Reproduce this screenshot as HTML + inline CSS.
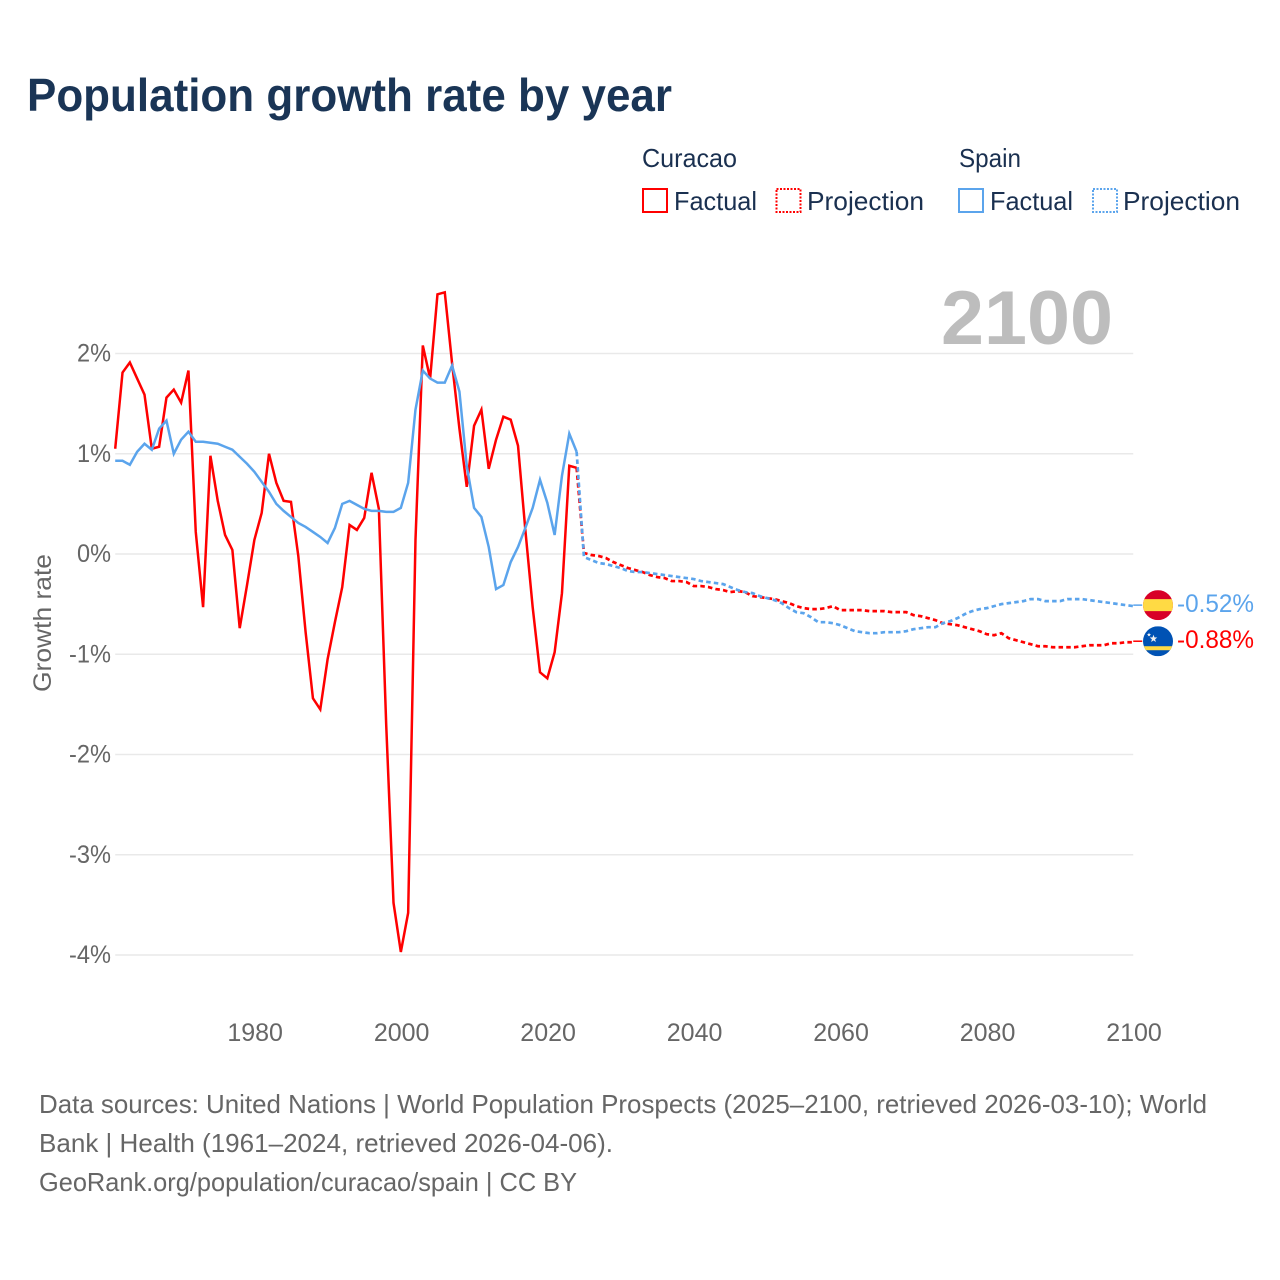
<!DOCTYPE html>
<html lang="en">
<head>
<meta charset="utf-8">
<title>Population growth rate by year</title>
<style>
html,body{margin:0;padding:0;background:#fff;}
svg{display:block;font-family:"Liberation Sans",sans-serif;}
</style>
</head>
<body>
<svg id="chart" xmlns="http://www.w3.org/2000/svg" width="1280" height="1280" viewBox="0 0 1280 1280">
  <rect x="0" y="0" width="1280" height="1280" fill="#fff"/>
  <text x="27" y="111" font-size="46" font-weight="700" fill="#1a3556" textLength="645" lengthAdjust="spacingAndGlyphs">Population growth rate by year</text>

  <g font-size="26" fill="#1a3050">
    <text x="642" y="167" textLength="95" lengthAdjust="spacingAndGlyphs">Curacao</text>
    <text x="959" y="167" textLength="62" lengthAdjust="spacingAndGlyphs">Spain</text>
    <rect x="643" y="189" width="24" height="23" fill="none" stroke="#ff0000" stroke-width="2"/>
    <text x="674" y="210" textLength="83" lengthAdjust="spacingAndGlyphs">Factual</text>
    <rect x="776.5" y="189" width="24" height="23" fill="none" stroke="#ff0000" stroke-width="2" stroke-dasharray="2 1.5"/>
    <text x="807" y="210" textLength="117" lengthAdjust="spacingAndGlyphs">Projection</text>
    <rect x="959" y="189" width="24" height="23" fill="none" stroke="#5ba4ec" stroke-width="2"/>
    <text x="990" y="210" textLength="83" lengthAdjust="spacingAndGlyphs">Factual</text>
    <rect x="1093" y="189" width="24" height="23" fill="none" stroke="#5ba4ec" stroke-width="2" stroke-dasharray="2 1.5"/>
    <text x="1123" y="210" textLength="117" lengthAdjust="spacingAndGlyphs">Projection</text>
  </g>

  <text x="941" y="344" font-size="76" font-weight="700" fill="#bdbdbd" textLength="172" lengthAdjust="spacingAndGlyphs">2100</text>
  <text transform="translate(51 623) rotate(-90)" text-anchor="middle" font-size="25" fill="#666" textLength="138" lengthAdjust="spacingAndGlyphs">Growth rate</text>

  <g id="grid"></g>
  <g id="ticks" font-size="25" fill="#666"></g>
  <g id="series"></g>
  <g id="ends"></g>

  <g font-size="26" fill="#666">
    <text x="39" y="1113" textLength="1168" lengthAdjust="spacingAndGlyphs">Data sources: United Nations | World Population Prospects (2025–2100, retrieved 2026-03-10); World</text>
    <text x="39" y="1152" textLength="574" lengthAdjust="spacingAndGlyphs">Bank | Health (1961–2024, retrieved 2026-04-06).</text>
    <a><text x="39" y="1191" textLength="538" lengthAdjust="spacingAndGlyphs">GeoRank.org/population/curacao/spain | CC BY</text></a>
  </g>
</svg>
<script>
const yTicks = [2, 1, 0, -1, -2, -3, -4];
const xTicks = [1980, 2000, 2020, 2040, 2060, 2080, 2100];
const factualStartYear = 1961;
const projectionStartYear = 2024;

const curacaoFactual = [1.05,1.81,1.91,1.75,1.59,1.05,1.07,1.56,1.64,1.51,1.83,0.22,-0.53,0.98,0.53,0.19,0.04,-0.74,-0.31,0.14,0.41,1.0,0.71,0.53,0.52,-0.02,-0.78,-1.44,-1.55,-1.05,-0.68,-0.33,0.29,0.24,0.36,0.81,0.45,-1.7,-3.48,-3.97,-3.58,0.14,2.08,1.75,2.59,2.61,1.9,1.25,0.67,1.28,1.44,0.85,1.14,1.37,1.34,1.08,0.24,-0.53,-1.18,-1.24,-0.98,-0.39,0.88,0.86];
const spainFactual = [0.93,0.93,0.89,1.02,1.10,1.04,1.25,1.33,1.0,1.14,1.22,1.12,1.12,1.11,1.10,1.07,1.04,0.97,0.90,0.82,0.72,0.62,0.50,0.43,0.37,0.31,0.27,0.22,0.17,0.11,0.26,0.50,0.53,0.49,0.45,0.43,0.43,0.42,0.42,0.46,0.71,1.44,1.83,1.75,1.71,1.71,1.88,1.62,0.88,0.46,0.37,0.07,-0.35,-0.31,-0.08,0.07,0.26,0.46,0.74,0.51,0.19,0.78,1.20,1.02];
const curacaoProjection = [0.86,0.01,-0.01,-0.02,-0.04,-0.08,-0.11,-0.14,-0.16,-0.18,-0.21,-0.23,-0.24,-0.27,-0.27,-0.28,-0.32,-0.32,-0.33,-0.35,-0.36,-0.38,-0.37,-0.38,-0.42,-0.43,-0.44,-0.45,-0.47,-0.49,-0.52,-0.54,-0.55,-0.55,-0.54,-0.52,-0.56,-0.56,-0.56,-0.56,-0.57,-0.57,-0.57,-0.58,-0.58,-0.58,-0.61,-0.62,-0.64,-0.66,-0.69,-0.70,-0.71,-0.73,-0.75,-0.77,-0.80,-0.81,-0.79,-0.84,-0.86,-0.88,-0.90,-0.92,-0.92,-0.93,-0.93,-0.93,-0.93,-0.92,-0.91,-0.91,-0.91,-0.89,-0.89,-0.88,-0.88];
const spainProjection = [1.02,-0.03,-0.06,-0.09,-0.10,-0.12,-0.14,-0.17,-0.18,-0.18,-0.19,-0.20,-0.21,-0.22,-0.23,-0.24,-0.25,-0.27,-0.28,-0.29,-0.30,-0.33,-0.36,-0.38,-0.39,-0.42,-0.44,-0.46,-0.49,-0.54,-0.58,-0.59,-0.63,-0.68,-0.68,-0.69,-0.71,-0.74,-0.77,-0.78,-0.79,-0.79,-0.78,-0.78,-0.78,-0.77,-0.75,-0.74,-0.73,-0.73,-0.69,-0.67,-0.64,-0.60,-0.57,-0.55,-0.54,-0.52,-0.50,-0.49,-0.48,-0.47,-0.45,-0.45,-0.47,-0.47,-0.47,-0.45,-0.45,-0.45,-0.46,-0.47,-0.48,-0.49,-0.50,-0.51,-0.52];

const NS = 'http://www.w3.org/2000/svg';
const RED = '#ff0000', BLUE = '#5ba4ec';
function xScale(year){ return 115.2 + (year - 1961) * 7.324; }
function yScale(v){ return 554 - v * 100.25; }
function mk(parent, tag, attrs){
  const el = document.createElementNS(NS, tag);
  for (const k in attrs) el.setAttribute(k, attrs[k]);
  parent.appendChild(el);
  return el;
}
function pathFrom(values, startYear){
  return values.map(function(v, i){
    return (i ? 'L' : 'M') + xScale(startYear + i).toFixed(2) + ' ' + yScale(v).toFixed(2);
  }).join(' ');
}

const grid = document.getElementById('grid');
const ticks = document.getElementById('ticks');
const seriesG = document.getElementById('series');
const ends = document.getElementById('ends');

yTicks.forEach(function(t){
  const line = mk(grid, 'line', {x1: xScale(1961), x2: xScale(2100), y1: yScale(t), y2: yScale(t), stroke: '#e9e9e9', 'stroke-width': 1.6});
  
  
  const label = mk(ticks, 'text', {x: 111, y: yScale(t) + 8, 'text-anchor': 'end', textLength: t < 0 ? 42 : 34, lengthAdjust: 'spacingAndGlyphs'});
  
  
  label.textContent = t + '%';
});
xTicks.forEach(function(t){
  const label = mk(ticks, 'text', {x: xScale(t) + 0.8, y: 1041, 'text-anchor': 'middle'});
  
  
  label.textContent = t;
});

const curacaoProj = mk(seriesG, 'path', {d: pathFrom(curacaoProjection, projectionStartYear), fill: 'none', stroke: RED, 'stroke-width': 2.7, 'stroke-dasharray': '4.5 3.2'});


const spainProj = mk(seriesG, 'path', {d: pathFrom(spainProjection, projectionStartYear), fill: 'none', stroke: BLUE, 'stroke-width': 2.7, 'stroke-dasharray': '4.5 3.2'});


const curacaoLine = mk(seriesG, 'path', {d: pathFrom(curacaoFactual, factualStartYear), fill: 'none', stroke: RED, 'stroke-width': 2.5, 'stroke-linejoin': 'miter'});


const spainLine = mk(seriesG, 'path', {d: pathFrom(spainFactual, factualStartYear), fill: 'none', stroke: BLUE, 'stroke-width': 2.5, 'stroke-linejoin': 'miter'});



function star(cx, cy, R){
  const pts = [];
  for (let i = 0; i < 10; i++){
    const r = i % 2 ? R * 0.42 : R;
    const a = -Math.PI / 2 + i * Math.PI / 5;
    pts.push((cx + r * Math.cos(a)).toFixed(2) + ',' + (cy + r * Math.sin(a)).toFixed(2));
  }
  return pts.join(' ');
}

const spainEnd = spainProjection[spainProjection.length - 1];
const curacaoEnd = curacaoProjection[curacaoProjection.length - 1];
const xEnd = xScale(2100);
const ySpain = yScale(spainEnd) - 1;
const yCuracao = yScale(curacaoEnd) - 1;

const spainLead = mk(ends, 'line', {x1: xEnd, x2: xEnd + 9, y1: ySpain, y2: ySpain, stroke: BLUE, 'stroke-width': 1.5});


const curacaoLead = mk(ends, 'line', {x1: xEnd, x2: xEnd + 9, y1: yCuracao, y2: yCuracao, stroke: RED, 'stroke-width': 1.5});



const spainClip = mk(ends, 'clipPath', {id: 'spain-clip'});
mk(spainClip, 'circle', {cx: 1158, cy: ySpain, r: 15});
const curacaoClip = mk(ends, 'clipPath', {id: 'curacao-clip'});
mk(curacaoClip, 'circle', {cx: 1158, cy: yCuracao, r: 15});

const spainFlag = mk(ends, 'g', {'clip-path': 'url(#spain-clip)'});


mk(spainFlag, 'rect', {x: 1143, y: ySpain - 15, width: 30, height: 30, fill: '#d80027'});
mk(spainFlag, 'rect', {x: 1143, y: ySpain - 6, width: 30, height: 12, fill: '#ffda44'});

const curacaoFlag = mk(ends, 'g', {'clip-path': 'url(#curacao-clip)'});


mk(curacaoFlag, 'rect', {x: 1143, y: yCuracao - 15, width: 30, height: 30, fill: '#0052b4'});
mk(curacaoFlag, 'rect', {x: 1143, y: yCuracao + 5, width: 30, height: 4, fill: '#ffda44'});
mk(curacaoFlag, 'polygon', {points: star(1153.5, yCuracao - 2.5, 4), fill: '#f0f0f0'});
mk(curacaoFlag, 'polygon', {points: star(1149, yCuracao - 6.5, 2.2), fill: '#f0f0f0'});

const spainLabel = mk(ends, 'text', {x: 1177, y: ySpain + 7, 'font-size': 25, fill: BLUE, textLength: 77, lengthAdjust: 'spacingAndGlyphs'});


spainLabel.textContent = spainEnd.toFixed(2) + '%';
const curacaoLabel = mk(ends, 'text', {x: 1177, y: yCuracao + 7, 'font-size': 25, fill: RED, textLength: 77, lengthAdjust: 'spacingAndGlyphs'});


curacaoLabel.textContent = curacaoEnd.toFixed(2) + '%';
</script>
</body>
</html>
